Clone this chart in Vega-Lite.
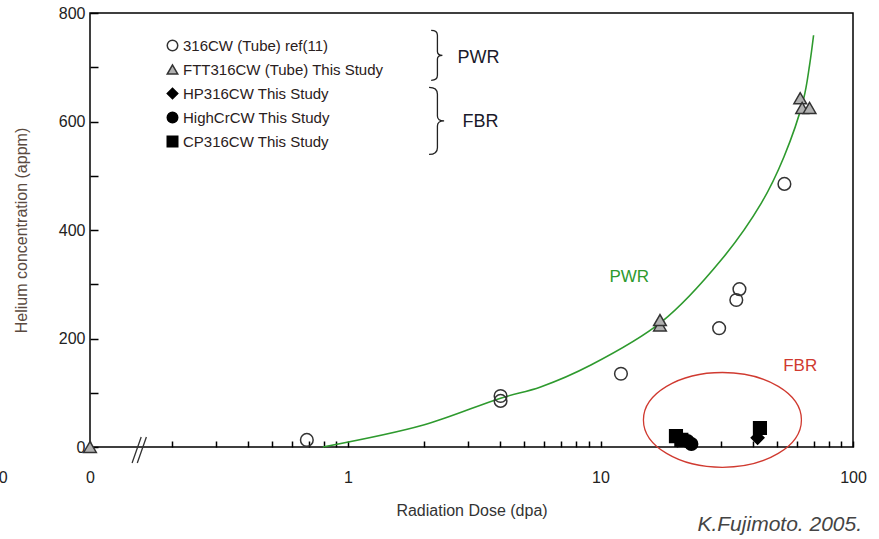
{
  "$schema": "https://vega.github.io/schema/vega-lite/v6.json",
  "width": 763,
  "height": 434,
  "autosize": {"type": "none"},
  "padding": {"left": 90, "top": 13, "right": 26, "bottom": 92},
  "background": "white",
  "config": {
    "view": {"stroke": "black", "strokeWidth": 1.5},
    "font": "Liberation Sans, sans-serif",
    "axis": {
      "grid": false,
      "domain": false,
      "tickColor": "black",
      "tickWidth": 1.5,
      "labelFont": "Liberation Sans, sans-serif",
      "labelFontSize": 16,
      "labelColor": "#222222",
      "titleFont": "Liberation Sans, sans-serif",
      "titleFontSize": 16,
      "titleFontWeight": "normal"
    },
    "legend": {
      "labelFont": "Liberation Sans, sans-serif",
      "labelFontSize": 15,
      "labelColor": "#2a2020",
      "labelLimit": 400
    }
  },
  "encoding": {
    "x": {
      "field": "d",
      "type": "quantitative",
      "scale": {"type": "log", "domain": [0.0951, 100], "nice": false},
      "axis": {
        "title": "Radiation Dose (dpa)",
        "titleColor": "#333333",
        "titlePadding": 17,
        "values": [0.0951, 0.2, 0.3, 0.4, 0.5, 0.6, 0.7, 0.8, 0.9, 1, 2, 3, 4, 5, 6, 7, 8, 9, 10, 20, 30, 40, 50, 60, 70, 80, 90, 100],
        "labelExpr": "datum.value < 0.1 ? '0' : datum.value == 1 ? '1' : datum.value == 10 ? '10' : datum.value == 100 ? '100' : ''",
        "offset": -6,
        "tickSize": 6,
        "labelPadding": 22,
        "labelFlush": false,
        "labelOverlap": false
      }
    },
    "y": {
      "field": "he",
      "type": "quantitative",
      "scale": {"domain": [0, 800], "nice": false},
      "axis": {
        "title": "Helium concentration (appm)",
        "titleColor": "#5a4a40",
        "titlePadding": 29,
        "values": [0, 100, 200, 300, 400, 500, 600, 700, 800],
        "labelExpr": "datum.value % 200 == 0 ? format(datum.value, 'd') : ''",
        "offset": -8,
        "tickSize": 8,
        "labelPadding": 5,
        "labelFlush": false,
        "labelOverlap": false
      }
    }
  },
  "layer": [
    {
      "data": {"values": [
        {"d": 0.795, "he": 0}, {"d": 1.99, "he": 40.5}, {"d": 4.02, "he": 90}, {"d": 5.79, "he": 110.6},
        {"d": 9.16, "he": 151}, {"d": 17.4, "he": 230}, {"d": 30.1, "he": 345}, {"d": 43.4, "he": 450},
        {"d": 53.3, "he": 535}, {"d": 63.6, "he": 640}, {"d": 67.3, "he": 704}, {"d": 69.8, "he": 759}
      ]},
      "mark": {"type": "line", "color": "#2e9a2e", "strokeWidth": 1.6, "interpolate": "catmull-rom"},
      "encoding": {}
    },
    {
      "data": {"values": [{"d": 30.4, "he": 50}]},
      "mark": {"type": "point", "shape": "M-1,0A1,0.6 0 1,1 1,0A1,0.6 0 1,1 -1,0Z", "size": 24964, "filled": false, "stroke": "#d03a30", "strokeWidth": 1.3, "opacity": 1},
      "encoding": {}
    },
    {
      "data": {"values": [
        {"series": "316CW (Tube) ref(11)", "d": 0.687, "he": 13},
        {"series": "316CW (Tube) ref(11)", "d": 4.02, "he": 94},
        {"series": "316CW (Tube) ref(11)", "d": 4.02, "he": 85},
        {"series": "316CW (Tube) ref(11)", "d": 12.05, "he": 135},
        {"series": "316CW (Tube) ref(11)", "d": 29.5, "he": 219},
        {"series": "316CW (Tube) ref(11)", "d": 34.5, "he": 271},
        {"series": "316CW (Tube) ref(11)", "d": 35.5, "he": 291},
        {"series": "316CW (Tube) ref(11)", "d": 53.5, "he": 485},
        {"series": "FTT316CW (Tube) This Study", "d": 0.0951, "he": 0},
        {"series": "FTT316CW (Tube) This Study", "d": 17.2, "he": 224},
        {"series": "FTT316CW (Tube) This Study", "d": 17.2, "he": 234},
        {"series": "FTT316CW (Tube) This Study", "d": 61.8, "he": 643},
        {"series": "FTT316CW (Tube) This Study", "d": 62.9, "he": 625},
        {"series": "FTT316CW (Tube) This Study", "d": 67.3, "he": 625},
        {"series": "HP316CW This Study", "d": 41.9, "he": 17},
        {"series": "HighCrCW This Study", "d": 22.1, "he": 11},
        {"series": "HighCrCW This Study", "d": 22.9, "he": 5.5},
        {"series": "CP316CW This Study", "d": 19.9, "he": 20},
        {"series": "CP316CW This Study", "d": 20.9, "he": 13},
        {"series": "CP316CW This Study", "d": 42.8, "he": 35}
      ]},
      "mark": {"type": "point", "filled": true, "size": 160, "strokeWidth": 1.5, "opacity": 1},
      "encoding": {
        "shape": {
          "field": "series", "type": "nominal",
          "scale": {
            "domain": ["316CW (Tube) ref(11)", "FTT316CW (Tube) This Study", "HP316CW This Study", "HighCrCW This Study", "CP316CW This Study"],
            "range": ["circle", "triangle-up", "diamond", "circle", "square"]
          },
          "legend": {
            "title": null, "orient": "none", "legendX": 75, "legendY": 25,
            "symbolSize": 110, "rowPadding": 7, "labelOffset": 3, "symbolStrokeWidth": 1.5
          }
        },
        "fill": {
          "field": "series", "type": "nominal",
          "scale": {
            "domain": ["316CW (Tube) ref(11)", "FTT316CW (Tube) This Study", "HP316CW This Study", "HighCrCW This Study", "CP316CW This Study"],
            "range": ["transparent", "#b0b0b0", "black", "black", "black"]
          },
          "legend": {
            "title": null, "orient": "none", "legendX": 75, "legendY": 25,
            "symbolSize": 110, "rowPadding": 7, "labelOffset": 3, "symbolStrokeWidth": 1.5
          }
        },
        "stroke": {
          "field": "series", "type": "nominal",
          "scale": {
            "domain": ["316CW (Tube) ref(11)", "FTT316CW (Tube) This Study", "HP316CW This Study", "HighCrCW This Study", "CP316CW This Study"],
            "range": ["#333333", "#333333", "black", "black", "black"]
          },
          "legend": {
            "title": null, "orient": "none", "legendX": 75, "legendY": 25,
            "symbolSize": 110, "rowPadding": 7, "labelOffset": 3, "symbolStrokeWidth": 1.5
          }
        }
      }
    },
    {
      "data": {"values": [{"d": 2.26, "he": 722}]},
      "mark": {"type": "point", "shape": "M-0.25,-1Q0,-1 0,-0.8L0,-0.15Q0,0 0.2,0Q0,0 0,0.15L0,0.8Q0,1 -0.25,1", "size": 2500, "filled": false, "stroke": "#222222", "strokeWidth": 1.3, "opacity": 1},
      "encoding": {}
    },
    {
      "data": {"values": [{"d": 2.26, "he": 601}]},
      "mark": {"type": "point", "shape": "M-0.25,-1Q0,-1 0,-0.8L0,-0.15Q0,0 0.2,0Q0,0 0,0.15L0,0.8Q0,1 -0.25,1", "size": 4489, "filled": false, "stroke": "#222222", "strokeWidth": 1.3, "opacity": 1},
      "encoding": {}
    },
    {
      "data": {"values": [{"d": 0.149, "he": -5.5}]},
      "mark": {"type": "point", "shape": "M-0.55,1L0.15,-1M-0.15,1L0.55,-1", "size": 676, "filled": false, "stroke": "#333333", "strokeWidth": 1.3, "opacity": 1},
      "encoding": {}
    },
    {
      "data": {"values": [{"d": 3.29, "he": 717, "t": "PWR"}, {"d": 3.35, "he": 599, "t": "FBR"}]},
      "mark": {"type": "text", "fontSize": 18, "color": "#1a1a2a", "align": "center", "baseline": "middle"},
      "encoding": {"text": {"field": "t"}}
    },
    {
      "data": {"values": [{"d": 13.0, "he": 313, "t": "PWR"}]},
      "mark": {"type": "text", "fontSize": 17, "color": "#2e9a2e", "align": "center", "baseline": "middle"},
      "encoding": {"text": {"field": "t"}}
    },
    {
      "data": {"values": [{"d": 61.8, "he": 149, "t": "FBR"}]},
      "mark": {"type": "text", "fontSize": 17, "color": "#d03a30", "align": "center", "baseline": "middle"},
      "encoding": {"text": {"field": "t"}}
    },
    {
      "data": {"values": [{"d": 0.0431, "he": -57, "t": "0"}]},
      "mark": {"type": "text", "fontSize": 16, "color": "#222222", "align": "center", "baseline": "middle"},
      "encoding": {"text": {"field": "t"}}
    },
    {
      "data": {"values": [{"d": 108.6, "he": -144, "t": "K.Fujimoto. 2005."}]},
      "mark": {"type": "text", "font": "Liberation Sans, sans-serif", "fontSize": 21, "fontStyle": "italic", "color": "#444444", "align": "right", "baseline": "middle"},
      "encoding": {"text": {"field": "t"}}
    }
  ]
}
